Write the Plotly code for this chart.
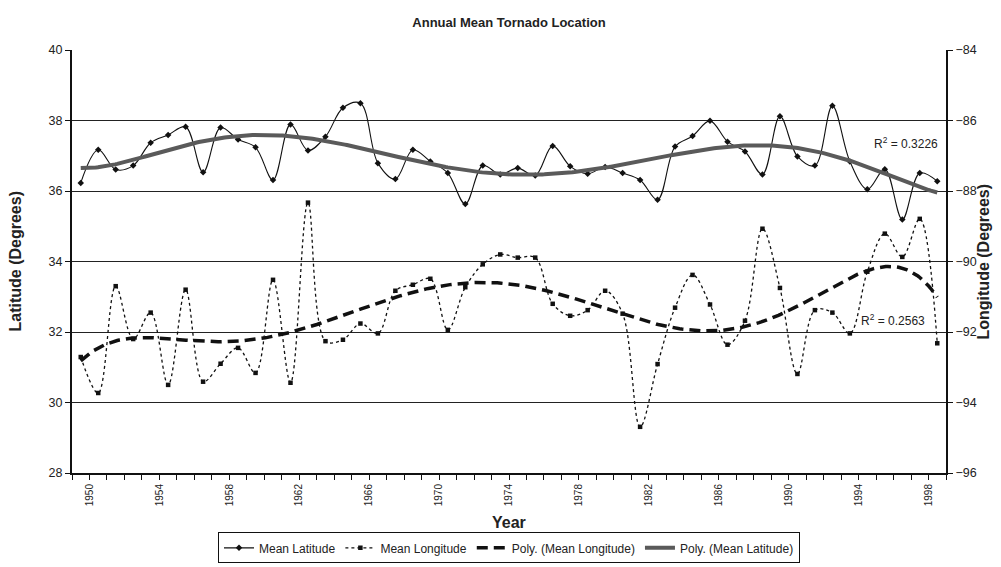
import numpy as np
import plotly.graph_objects as go

years = list(range(1950, 2000))
mean_latitude = [36.23, 37.17, 36.61, 36.72, 37.37, 37.59, 37.82, 36.53, 37.80, 37.46,
                 37.24, 36.31, 37.89, 37.15, 37.54, 38.36, 38.49, 36.79, 36.34, 37.17,
                 36.84, 36.51, 35.63, 36.72, 36.47, 36.65, 36.44, 37.28, 36.70, 36.49,
                 36.68, 36.51, 36.31, 35.75, 37.26, 37.56, 37.99, 37.40, 37.12, 36.47,
                 38.12, 36.98, 36.72, 38.42, 36.84, 36.05, 36.62, 35.19, 36.51, 36.28]
mean_longitude = [-92.71, -93.73, -90.70, -92.20, -91.45, -93.50, -90.80, -93.41, -92.90, -92.45,
                  -93.16, -90.52, -93.44, -88.33, -92.26, -92.22, -91.76, -92.04, -90.83, -90.66,
                  -90.49, -91.94, -90.73, -90.08, -89.80, -89.89, -89.89, -91.20, -91.54, -91.38,
                  -90.83, -91.48, -94.69, -92.91, -91.31, -90.38, -91.22, -92.36, -91.68, -89.07,
                  -90.75, -93.19, -91.38, -91.45, -92.04, -90.29, -89.21, -89.87, -88.79, -92.32]
label_years = list(range(1950, 1999, 4))
lat_ticks = [28, 30, 32, 34, 36, 38, 40]
lon_ticks = [-96, -94, -92, -90, -88, -86, -84]
r2_lat_text = "R<sup>2</sup> = 0.3226"
r2_lon_text = "R<sup>2</sup> = 0.2563"

# positions: each year's point sits half a tick left of its label tick
xpos = np.array(years, dtype=float) - 0.5
idx = np.arange(1, len(years) + 1, dtype=float)

p_lat = np.polynomial.Polynomial.fit(idx, mean_latitude, 6)
p_lon = np.polynomial.Polynomial.fit(idx, mean_longitude, 6)
fine_idx = np.linspace(idx[0], idx[-1], 400)
fine_x = xpos[0] + (fine_idx - 1)

FONT = "Liberation Sans, Arial, sans-serif"

fig = go.Figure()
fig.add_trace(go.Scatter(
    x=xpos, y=mean_latitude, name="Mean Latitude", mode="lines+markers",
    line=dict(color="#111", width=1.1, shape="spline"),
    marker=dict(symbol="diamond", size=5, color="#111")))
fig.add_trace(go.Scatter(
    x=xpos, y=mean_longitude, name="Mean Longitude", mode="lines+markers", yaxis="y2",
    line=dict(color="#111", width=1.3, dash="dot", shape="spline"),
    marker=dict(symbol="square", size=4.5, color="#111")))
fig.add_trace(go.Scatter(
    x=fine_x, y=p_lon(fine_idx), name="Poly. (Mean Longitude)", mode="lines", yaxis="y2",
    line=dict(color="#111", width=3.5, dash="11px,6px")))
fig.add_trace(go.Scatter(
    x=fine_x, y=p_lat(fine_idx), name="Poly. (Mean Latitude)", mode="lines",
    line=dict(color="#5a5a5a", width=4)))

tickvals = list(range(1949, 2000))
ticktext = [str(v) if v in label_years else "" for v in tickvals]

fig.update_layout(
    width=1001, height=567,
    margin=dict(l=64, r=63, t=42, b=96),
    paper_bgcolor="white", plot_bgcolor="white",
    font=dict(family=FONT, color="#222", size=12),
    title=dict(text="<b>Annual Mean Tornado Location</b>", x=0.5, xref="paper",
               y=1 - 14 / 567, yanchor="middle", font=dict(size=13, family=FONT)),
    showlegend=True,
    legend=dict(orientation="h", x=0.5, xanchor="center", y=-0.177, yanchor="middle",
                bordercolor="#111", borderwidth=1, font=dict(size=12, family=FONT),
                itemwidth=30, tracegroupgap=0),
    xaxis=dict(range=[1949, 1999], tickmode="array", tickvals=tickvals, ticktext=ticktext,
               tickangle=-90, ticks="outside", ticklen=5, tickcolor="#111",
               tickfont=dict(size=10), showline=True, linecolor="#111", linewidth=2,
               showgrid=False, zeroline=False, fixedrange=True),
    yaxis=dict(range=[28, 40], tickmode="array", tickvals=lat_ticks,
               ticks="outside", ticklen=5, tickcolor="#111", showline=True,
               linecolor="#111", linewidth=2, showgrid=True, gridcolor="#222", gridwidth=1.3,
               zeroline=False, tickfont=dict(size=12.5)),
    yaxis2=dict(range=[-96, -84], tickmode="array", tickvals=lon_ticks, overlaying="y",
                side="right", ticks="outside", ticklen=5, tickcolor="#111", showline=True,
                linecolor="#111", linewidth=2, showgrid=False, zeroline=False,
                tickfont=dict(size=12.5)),
)

fig.add_annotation(text="<b>Year</b>", x=0.5, xref="paper", y=-(521 - 471) / 429, yref="paper",
                   showarrow=False, yanchor="middle", font=dict(size=16, family=FONT))
fig.add_annotation(text="<b>Latitude (Degrees)</b>", x=(7 - 64) / 874, xref="paper", y=0.5,
                   yref="paper", textangle=-90, showarrow=False, xanchor="center",
                   font=dict(size=16, family=FONT))
fig.add_annotation(text="<b>Longitude (Degrees)</b>", x=(975 - 64) / 874, xref="paper", y=0.5,
                   yref="paper", textangle=-90, showarrow=False, xanchor="center",
                   font=dict(size=16, family=FONT))
fig.add_annotation(text=r2_lat_text, x=(932 - 64) / 874, xref="paper", y=(471 - 136) / 429,
                   yref="paper", showarrow=False, xanchor="right", yanchor="middle",
                   font=dict(size=12, family=FONT))
fig.add_annotation(text=r2_lon_text, x=(919 - 64) / 874, xref="paper", y=(471 - 316) / 429,
                   yref="paper", showarrow=False, xanchor="right", yanchor="middle",
                   font=dict(size=12, family=FONT))

fig.write_html("out.html")
